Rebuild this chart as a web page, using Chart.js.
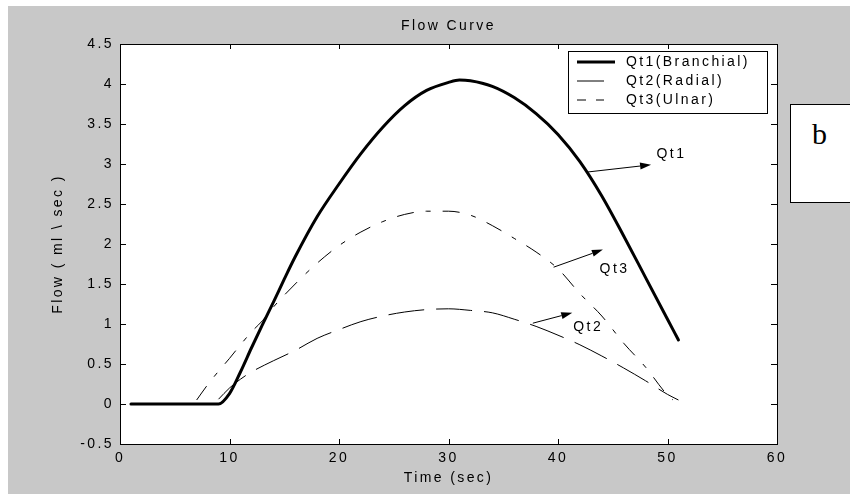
<!DOCTYPE html>
<html><head><meta charset="utf-8">
<script src="https://cdn.jsdelivr.net/npm/chart.js@4.4.1/dist/chart.umd.min.js"></script>
<style>
html,body{margin:0;padding:0;background:#fff;overflow:hidden;width:850px;height:494px;}
#fig{position:absolute;left:8px;top:6px;width:842px;height:488px;background:#c8c8c8;}
#fig canvas{position:absolute;left:0;top:0;}
#tag{position:absolute;left:790px;top:104px;width:80px;height:99px;box-sizing:border-box;border:1.5px solid #000;background:#fff;}
#tag span{position:absolute;left:21px;top:14px;font:30px/30px "Liberation Serif","Times New Roman",serif;color:#000;}
</style></head>
<body>
<div id="fig"><canvas id="c" width="842" height="488"></canvas></div>
<div id="tag"><span>b</span></div>
<script>
// ---- data ----
const qt1Time = [1, 9, 10, 11, 12, 13, 14, 15, 16, 18, 20, 22, 24, 26, 28, 30, 31, 32, 34, 36, 38, 40, 42, 44, 46, 48, 50, 51];
const qt1Flow = [0, 0, 0.13, 0.4, 0.7, 0.99, 1.27, 1.56, 1.84, 2.34, 2.75, 3.13, 3.46, 3.73, 3.92, 4.02, 4.05, 4.04, 3.97, 3.83, 3.63, 3.37, 3.03, 2.6, 2.1, 1.58, 1.06, 0.8];
const qt2Time = [9, 10, 11, 12, 14, 16, 18, 20, 22, 24, 26, 28, 30, 32, 34, 36, 38, 40, 42, 44, 46, 48, 50, 51];
const qt2Flow = [0.06, 0.2, 0.31, 0.4, 0.54, 0.67, 0.82, 0.93, 1.03, 1.1, 1.15, 1.18, 1.19, 1.17, 1.14, 1.06, 0.97, 0.86, 0.74, 0.6, 0.45, 0.29, 0.12, 0.05];
const qt3Time = [7, 8, 9, 10, 11, 12, 13, 14, 16, 18, 20, 22, 24, 26, 28, 30, 32, 34, 36, 38, 40, 42, 44, 46, 48, 50, 50.5];
const qt3Flow = [0.05, 0.24, 0.41, 0.57, 0.74, 0.9, 1.04, 1.21, 1.5, 1.76, 1.98, 2.15, 2.28, 2.37, 2.41, 2.41, 2.36, 2.23, 2.07, 1.9, 1.69, 1.38, 1.1, 0.76, 0.46, 0.11, 0.05];
const seriesLabels = ['Qt1(Branchial)', 'Qt2(Radial)', 'Qt3(Ulnar)'];
const chartTitle = 'Flow Curve';
const xTitle = 'Time (sec)';
const yTitle = 'Flow ( ml \\ sec )';
const xRange = [0, 60], xStep = 10;
const yRange = [-0.5, 4.5], yStep = 0.5;
// annotation arrows (data units)
const arrowLabels = ['Qt1', 'Qt3', 'Qt2'];
const arrowFrom = [[42.7, 2.9], [39.6, 1.71], [37.7, 1.01]];
const arrowTo = [[48.5, 2.99], [44.1, 1.93], [41.3, 1.14]];
const arrowText = [[49.0, 3.12], [43.8, 1.69], [41.4, 0.96]];

const toPts = (xs, ys) => xs.map((x, i) => ({x: x, y: ys[i]}));
const FONT = "'Liberation Sans', Arial, Helvetica, sans-serif";
const FSIZE = 14;
Chart.defaults.font.family = FONT;
Chart.defaults.font.size = FSIZE;
Chart.defaults.color = '#000';
const SPACING = '2.4px';

const figPlugin = {
  id: 'fig',
  beforeDraw(chart) {
    const {ctx, chartArea: a} = chart;
    ctx.letterSpacing = SPACING;
    ctx.save();
    ctx.fillStyle = '#fff';
    ctx.fillRect(a.left, a.top, a.right - a.left, a.bottom - a.top);
    ctx.restore();
  },
  afterDatasetsDraw(chart) {
    const {ctx, chartArea: a, scales} = chart;
    const xs = scales.x, ys = scales.y;
    ctx.save();
    ctx.strokeStyle = '#000';
    ctx.lineWidth = 1;
    ctx.strokeRect(a.left + 0.5, a.top + 0.5, a.right - a.left, a.bottom - a.top);
    ctx.beginPath();
    xs.ticks.forEach(t => {
      const px = Math.round(xs.getPixelForValue(t.value)) + 0.5;
      ctx.moveTo(px, a.bottom); ctx.lineTo(px, a.bottom - 5);
      ctx.moveTo(px, a.top); ctx.lineTo(px, a.top + 5);
    });
    ys.ticks.forEach(t => {
      const py = Math.round(ys.getPixelForValue(t.value)) + 0.5;
      ctx.moveTo(a.left, py); ctx.lineTo(a.left + 6, py);
      ctx.moveTo(a.right, py); ctx.lineTo(a.right - 6, py);
    });
    ctx.stroke();

    // arrows
    ctx.fillStyle = '#000';
    ctx.font = FSIZE + 'px ' + FONT;
    ctx.textBaseline = 'middle';
    ctx.textAlign = 'left';
    arrowLabels.forEach((lab, i) => {
      const x0 = xs.getPixelForValue(arrowFrom[i][0]), y0 = ys.getPixelForValue(arrowFrom[i][1]);
      const x1 = xs.getPixelForValue(arrowTo[i][0]), y1 = ys.getPixelForValue(arrowTo[i][1]);
      const ang = Math.atan2(y1 - y0, x1 - x0);
      const L = 11, W = 3.5;
      const bx = x1 - L * Math.cos(ang), by = y1 - L * Math.sin(ang);
      ctx.beginPath();
      ctx.moveTo(x0, y0); ctx.lineTo(bx, by);
      ctx.stroke();
      ctx.beginPath();
      ctx.moveTo(x1, y1);
      ctx.lineTo(bx + W * Math.sin(ang), by - W * Math.cos(ang));
      ctx.lineTo(bx - W * Math.sin(ang), by + W * Math.cos(ang));
      ctx.closePath();
      ctx.fill();
      ctx.fillText(lab, xs.getPixelForValue(arrowText[i][0]), ys.getPixelForValue(arrowText[i][1]));
    });

    // legend
    const lw = 199, lh = 62;
    const lx = a.right - 10 - lw, ly = a.top + 7;
    ctx.fillStyle = '#fff';
    ctx.fillRect(lx, ly, lw, lh);
    ctx.strokeRect(Math.round(lx) + 0.5, Math.round(ly) + 0.5, lw, lh);
    const legendDash = [[], [30, 10], [9, 10]];
    chart.data.datasets.forEach((ds, i) => {
      const ry = ly + 11 + i * 19;
      ctx.save();
      ctx.strokeStyle = '#000';
      ctx.lineWidth = ds.borderWidth;
      ctx.setLineDash(legendDash[i]);
      ctx.beginPath();
      ctx.moveTo(lx + 9, ry); ctx.lineTo(lx + (i === 0 ? 47 : 36), ry);
      ctx.stroke();
      ctx.restore();
      ctx.fillStyle = '#000';
      ctx.fillText(ds.label, lx + 58, ry);
    });

    // title
    ctx.textAlign = 'center';
    ctx.fillText(chartTitle, (a.left + a.right) / 2, 20.5);
    ctx.restore();
  }
};

const fmt = v => String(Number(v.toFixed(2)));

new Chart(document.getElementById('c'), {
  type: 'line',
  data: {
    datasets: [
      {label: seriesLabels[0], data: toPts(qt1Time, qt1Flow), borderColor: '#000', borderWidth: 3, borderJoinStyle: 'round', borderCapStyle: 'round'},
      {label: seriesLabels[1], data: toPts(qt2Time, qt2Flow), borderColor: '#000', borderWidth: 1, borderDash: [36, 12]},
      {label: seriesLabels[2], data: toPts(qt3Time, qt3Flow), borderColor: '#000', borderWidth: 1, borderDash: [17, 12, 5, 12]}
    ]
  },
  options: {
    responsive: false,
    animation: false,
    devicePixelRatio: 1,
    elements: {point: {radius: 0}, line: {cubicInterpolationMode: 'monotone', fill: false}},
    layout: {padding: {top: 38, right: 73, bottom: 0, left: 0}},
    plugins: {legend: {display: false}, title: {display: false}, tooltip: {enabled: false}},
    scales: {
      x: {
        type: 'linear', min: xRange[0], max: xRange[1],
        ticks: {stepSize: xStep, padding: 6, color: '#000', maxRotation: 0, callback: fmt},
        grid: {display: false, drawTicks: false},
        border: {display: false},
        title: {display: true, text: xTitle, color: '#000', padding: {top: 0, bottom: 7}},
        afterFit(s) { s.height = 50; }
      },
      y: {
        type: 'linear', min: yRange[0], max: yRange[1],
        ticks: {stepSize: yStep, padding: 6, color: '#000', callback: fmt},
        grid: {display: false, drawTicks: false},
        border: {display: false},
        title: {display: true, text: yTitle, color: '#000', padding: {top: 42, bottom: 0}},
        afterFit(s) { s.width = 112; }
      }
    }
  },
  plugins: [figPlugin]
});
</script>
</body></html>
